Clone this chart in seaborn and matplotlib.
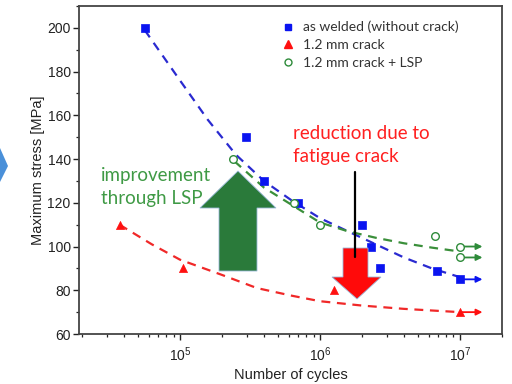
import numpy as np
import pandas as pd
import matplotlib
matplotlib.use("Agg")
import matplotlib.pyplot as plt
import seaborn as sns
from matplotlib.lines import Line2D
from matplotlib.patches import Polygon
from matplotlib.ticker import LogLocator, NullFormatter, MultipleLocator

# ---------------- data ----------------
welded_N = [5.6e4, 2.95e5, 4.0e5, 7.0e5, 2.0e6, 2.3e6, 2.7e6, 6.9e6, 1.0e7]
welded_S = [200, 150, 130, 120, 110, 100, 90, 89, 85]

crack_N = [3.7e4, 1.05e5, 1.27e6, 1.0e7]
crack_S = [110, 90, 80, 70]

lsp_N = [2.4e5, 6.5e5, 1.0e6, 6.6e6, 1.0e7, 1.0e7]
lsp_S = [140, 120, 110, 105, 100, 95]

# fitted trend curves
welded_fit_N = [5.6e4, 1.0e5, 1.58e5, 2.51e5, 3.98e5, 6.31e5, 1.0e6, 1.58e6, 2.51e6, 3.98e6, 6.31e6, 1.0e7]
welded_fit_S = [199, 176, 158, 142, 130, 121, 113, 107, 101, 95, 90, 86]

crack_fit_N = [3.7e4, 6.3e4, 1.0e5, 2.0e5, 3.55e5, 6.31e5, 1.0e6, 2.0e6, 3.98e6, 1.0e7]
crack_fit_S = [110, 101, 94, 87, 81, 77.5, 75, 73, 71.5, 70]

lsp_fit_N = [2.45e5, 3.98e5, 6.31e5, 1.0e6, 1.58e6, 2.51e6, 3.98e6, 6.31e6, 9.3e6]
lsp_fit_S = [139, 127, 119, 111, 107, 104, 101.5, 99.5, 98]

runout_N = [1.0e7, 1.45e7]
runout_S = {"blue": [85], "red": [70], "green": [100, 95]}

labels = ["as welded (without crack)", "1.2 mm crack", "1.2 mm crack + LSP"]
yticks = [60, 80, 100, 120, 140, 160, 180, 200]
xticks = [1e5, 1e6, 1e7]
xtick_labels = [r"$10^5$", r"$10^6$", r"$10^7$"]

BLUE = "#0a14f0"
RED = "#ff1010"
GREEN = "#2e8b3a"
BLUE_L = "#2a2ad0"
RED_L = "#f02828"
GREEN_L = "#3a8f3a"

# ---------------- figure ----------------
sns.set_theme(style="white")
plt.rcParams["font.family"] = ["Liberation Sans", "DejaVu Sans"]
plt.rcParams["mathtext.fontset"] = "custom"
plt.rcParams["mathtext.rm"] = "Liberation Sans"
plt.rcParams["mathtext.it"] = "Liberation Sans"

W, H = 512, 384
fig = plt.figure(figsize=(W / 100, H / 100), dpi=100)
ax = fig.add_axes([79 / W, 1 - 334 / H, (502 - 79) / W, (334 - 6) / H])


def px(x, y):
    return (x / W, 1 - y / H)


# fitted dashed curves
for N, S, c in [(welded_fit_N, welded_fit_S, BLUE_L),
                (lsp_fit_N, lsp_fit_S, GREEN_L),
                (crack_fit_N, crack_fit_S, RED_L)]:
    sns.lineplot(x=N, y=S, ax=ax, color=c, linestyle=(0, (4, 3)), lw=1.6,
                 sort=False, estimator=None, zorder=2)

# decorative block arrows (figure pixel coordinates)
green_arrow = [(219, 271), (257, 271), (257, 208), (276, 208), (238, 171),
               (200, 208), (219, 208)]
red_arrow = [(343, 248), (368, 248), (368, 277), (381, 277), (357, 299),
             (332, 277), (343, 277)]
for pts, c in [(green_arrow, "#2a7a3a"), (red_arrow, "#ff0a0a")]:
    poly = Polygon([px(*p) for p in pts], closed=True, transform=fig.transFigure,
                   facecolor=c, edgecolor="#9ab8d8", lw=0.6, zorder=3)
    fig.add_artist(poly)
fig.add_artist(Line2D([355 / W, 355 / W], [1 - 172 / H, 1 - 257 / H],
                      transform=fig.transFigure, color="black", lw=1.6, zorder=4))

# left-edge chevron from the slide
fig.add_artist(Polygon([px(0, 148), px(8, 166), px(0, 182)], closed=True,
                       transform=fig.transFigure, facecolor="#4a90d9",
                       edgecolor="none"))

# run-out arrows
for c, ys in [(BLUE, runout_S["blue"]), (RED, runout_S["red"]), (GREEN, runout_S["green"])]:
    for y in ys:
        ax.annotate("", xy=(runout_N[1], y), xytext=(runout_N[0], y),
                    arrowprops=dict(arrowstyle="-|>", color=c, lw=1.3,
                                    mutation_scale=9, shrinkA=0, shrinkB=0),
                    zorder=4)

# data points
sns.scatterplot(x=welded_N, y=welded_S, ax=ax, marker="s", s=28, color=BLUE,
                edgecolor=BLUE, linewidth=0.5, zorder=5)
sns.scatterplot(x=crack_N, y=crack_S, ax=ax, marker="^", s=34, color=RED,
                edgecolor=RED, linewidth=0.5, zorder=5)
sns.scatterplot(x=lsp_N, y=lsp_S, ax=ax, marker="o", s=30, facecolor="white",
                edgecolor=GREEN, linewidth=1.0, zorder=5)

# axes
ax.set_xscale("log")
ax.set_xlim(1.9e4, 2.0e7)
ax.set_ylim(60, 210)
ax.set_yticks(yticks)
ax.yaxis.set_minor_locator(MultipleLocator(10))
ax.set_xticks(xticks)
ax.set_xticklabels(xtick_labels)
ax.xaxis.set_minor_locator(LogLocator(base=10, subs=np.arange(2, 10)))
ax.xaxis.set_minor_formatter(NullFormatter())
ax.tick_params(axis="both", which="major", direction="out", length=4, width=1.0,
               colors="#222222", labelsize=10, pad=2, bottom=True, left=True)
ax.tick_params(axis="both", which="minor", direction="out", length=2.5, width=0.9,
               colors="#222222", bottom=True, left=True)
ax.tick_params(axis="x", which="major", pad=4)
for s in ax.spines.values():
    s.set_color("#444444")
    s.set_linewidth(1.3)
ax.set_xlabel("Number of cycles", fontsize=10.5, labelpad=3, color="#222222")
ax.set_ylabel("Maximum stress [MPa]", fontsize=10.5, labelpad=2, color="#222222")

# legend
handles = [
    Line2D([], [], marker="s", ls="none", color=BLUE, markersize=4.5),
    Line2D([], [], marker="^", ls="none", color=RED, markersize=5.5),
    Line2D([], [], marker="o", ls="none", markerfacecolor="white",
           markeredgecolor=GREEN, markersize=5, markeredgewidth=1.0),
]
leg = ax.legend(handles, labels, loc="upper left", bbox_to_anchor=px(274, 14),
                bbox_transform=fig.transFigure, frameon=False, handlelength=1.0,
                handletextpad=0.6, labelspacing=0.4, borderpad=0,
                prop={"family": "Lato", "size": 10})
for t in leg.get_texts():
    t.set_color("#333333")

# annotations
fig.text(101 / W, 1 - 187 / H, "improvement\nthrough LSP", family="Lato",
         fontsize=13.5, color="#3f9a45", va="center", ha="left",
         linespacing=1.45)
fig.text(293 / W, 1 - 145 / H, "reduction due to\nfatigue crack", family="Lato",
         fontsize=13.5, color="#ff2020", va="center", ha="left",
         linespacing=1.4)

fig.savefig("out.png", dpi=100)
